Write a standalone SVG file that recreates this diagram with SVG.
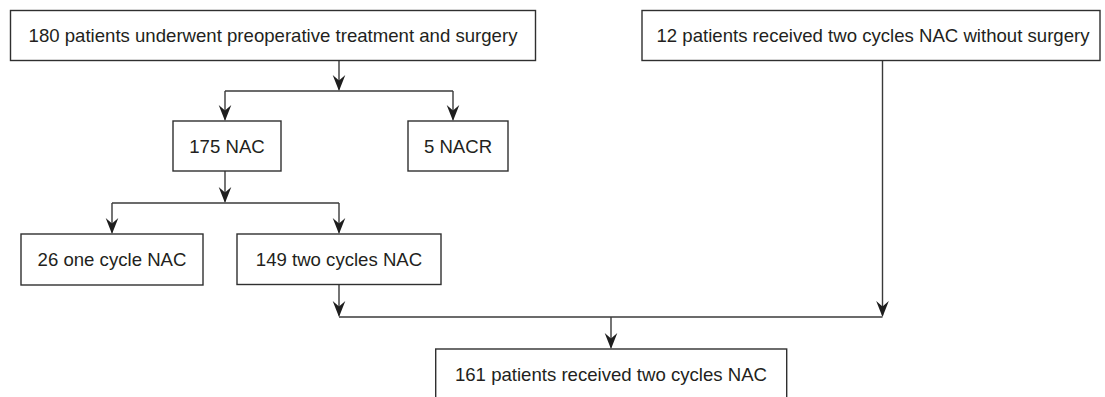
<svg xmlns="http://www.w3.org/2000/svg" width="1105" height="397" viewBox="0 0 1105 397">
<style>
.box{fill:#fff;stroke:#2f2f2f;stroke-width:1.4}
.lbl{font-family:"Liberation Sans",Arial,sans-serif;font-size:18.6px;fill:#231f20;text-anchor:middle}
.con{fill:none;stroke:#3a3a3a;stroke-width:1.4}
</style>
<defs>
<marker id="ah" viewBox="-17 -8 18 16" refX="-1.5" refY="0" markerWidth="18" markerHeight="16" markerUnits="userSpaceOnUse" orient="auto">
<path d="M0,0 L-16,-6.3 L-10.5,0 L-16,6.3 Z" fill="#1e1e1e"/>
</marker>
</defs>
<rect width="1105" height="397" fill="#fff"/>
<g id="connectors">
<path class="con" d="M339,60.5 V89.5" marker-end="url(#ah)"/>
<path class="con" d="M225,91 H453"/>
<path class="con" d="M225,91 V119.5" marker-end="url(#ah)"/>
<path class="con" d="M453,91 V119.5" marker-end="url(#ah)"/>
<path class="con" d="M225,171 V201.5" marker-end="url(#ah)"/>
<path class="con" d="M112,203 H339"/>
<path class="con" d="M112,203 V232.5" marker-end="url(#ah)"/>
<path class="con" d="M339,203 V232.5" marker-end="url(#ah)"/>
<path class="con" d="M339,284.5 V315.5" marker-end="url(#ah)"/>
<path class="con" d="M882.5,60.5 V315.5" marker-end="url(#ah)"/>
<path class="con" d="M339,317 H882.5"/>
<path class="con" d="M611,317 V347.5" marker-end="url(#ah)"/>
</g>
<g id="n180">
<rect class="box" x="10.5" y="10.5" width="525" height="50"/>
<text class="lbl" x="273" y="42.2">180 patients underwent preoperative treatment and surgery</text>
</g>
<g id="n12">
<rect class="box" x="642" y="10.5" width="458" height="50"/>
<text class="lbl" x="873" y="42.2">12 patients received two cycles NAC without surgery</text>
</g>
<g id="n175">
<rect class="box" x="173" y="121" width="108" height="50"/>
<text class="lbl" x="227" y="152.7">175 NAC</text>
</g>
<g id="n5">
<rect class="box" x="408" y="121" width="100" height="50"/>
<text class="lbl" x="458" y="152.7">5 NACR</text>
</g>
<g id="n26">
<rect class="box" x="21" y="234" width="182" height="51"/>
<text class="lbl" x="112" y="266">26 one cycle NAC</text>
</g>
<g id="n149">
<rect class="box" x="237" y="234" width="204" height="50.5"/>
<text class="lbl" x="339" y="266">149 two cycles NAC</text>
</g>
<g id="n161">
<rect class="box" x="435.7" y="349" width="351" height="60"/>
<text class="lbl" x="611" y="381">161 patients received two cycles NAC</text>
</g>
</svg>
